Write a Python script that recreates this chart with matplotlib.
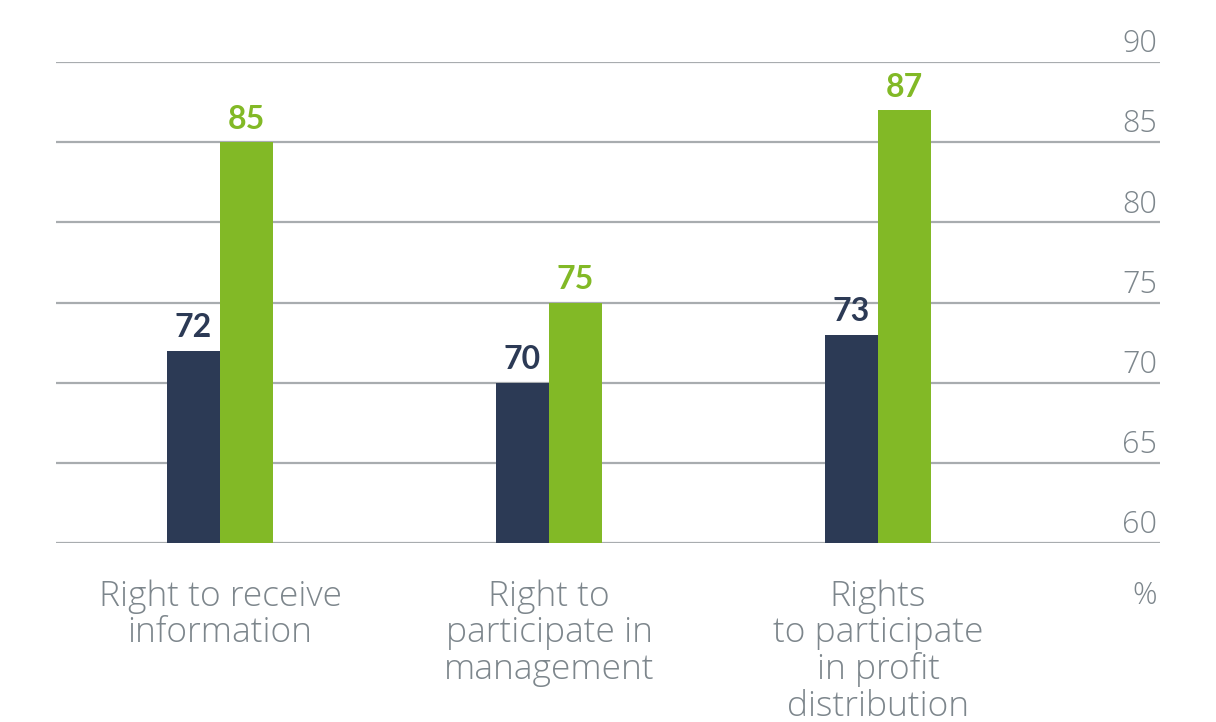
import matplotlib.pyplot as plt
from matplotlib.transforms import blended_transform_factory

categories = ["Right to receive\ninformation",
              "Right to\nparticipate in\nmanagement",
              "Rights\nto participate\nin profit\ndistribution"]
dark_vals = [72, 70, 73]
green_vals = [85, 75, 87]
y_ticks = [60, 65, 70, 75, 80, 85, 90]

dark_col = "#2c3a55"
green_col = "#82b926"
grid_col = "#a8acaf"
text_col = "#7d868c"

plt.rcParams['font.family'] = ['Open Sans', 'DejaVu Sans']

fig = plt.figure(figsize=(12.16, 7.22), dpi=100)
ax = fig.add_axes([56 / 1216, 1 - 543 / 722, 1104 / 1216, (543 - 62) / 722])

w = 0.161
xs = list(range(len(categories)))
for yt in y_ticks:
    ax.axhline(yt, color=grid_col, lw=1.6, zorder=0)

ax.bar([x - w / 2 for x in xs], [v - 60 for v in dark_vals], w, bottom=60,
       color=dark_col, zorder=2)
ax.bar([x + w / 2 for x in xs], [v - 60 for v in green_vals], w, bottom=60,
       color=green_col, zorder=2)

for x, v in zip(xs, dark_vals):
    ax.annotate(str(v), (x - w / 2, v), xytext=(0, 6), textcoords="offset points",
                ha="center", va="bottom", fontsize=23, fontweight="bold",
                color=dark_col, family="Lato")
for x, v in zip(xs, green_vals):
    ax.annotate(str(v), (x + w / 2, v), xytext=(0, 6), textcoords="offset points",
                ha="center", va="bottom", fontsize=23, fontweight="bold",
                color=green_col, family="Lato")

ax.set_xlim(-0.4985, 2.857)
ax.set_ylim(60, 90)
ax.axis("off")

tr = blended_transform_factory(ax.transAxes, ax.transData)
for yt in y_ticks:
    ax.annotate(str(yt), (1.0, yt), xycoords=tr, xytext=(-2, 7), textcoords="offset points",
                ha="right", va="baseline", fontsize=22, fontweight="light", color=text_col)

tr2 = blended_transform_factory(ax.transData, ax.transAxes)
for x, lab in zip(xs, categories):
    ax.annotate(lab, (x, 0), xycoords=tr2, xytext=(0, -26), textcoords="offset points",
                ha="center", va="top", fontsize=25.5, fontweight="light", color=text_col,
                linespacing=1.08)
ax.annotate("%", (2.81, 0), xycoords=tr2, xytext=(0, -27), textcoords="offset points",
            ha="center", va="top", fontsize=22, fontweight="light", color=text_col)

fig.savefig("out.png", dpi=100)
